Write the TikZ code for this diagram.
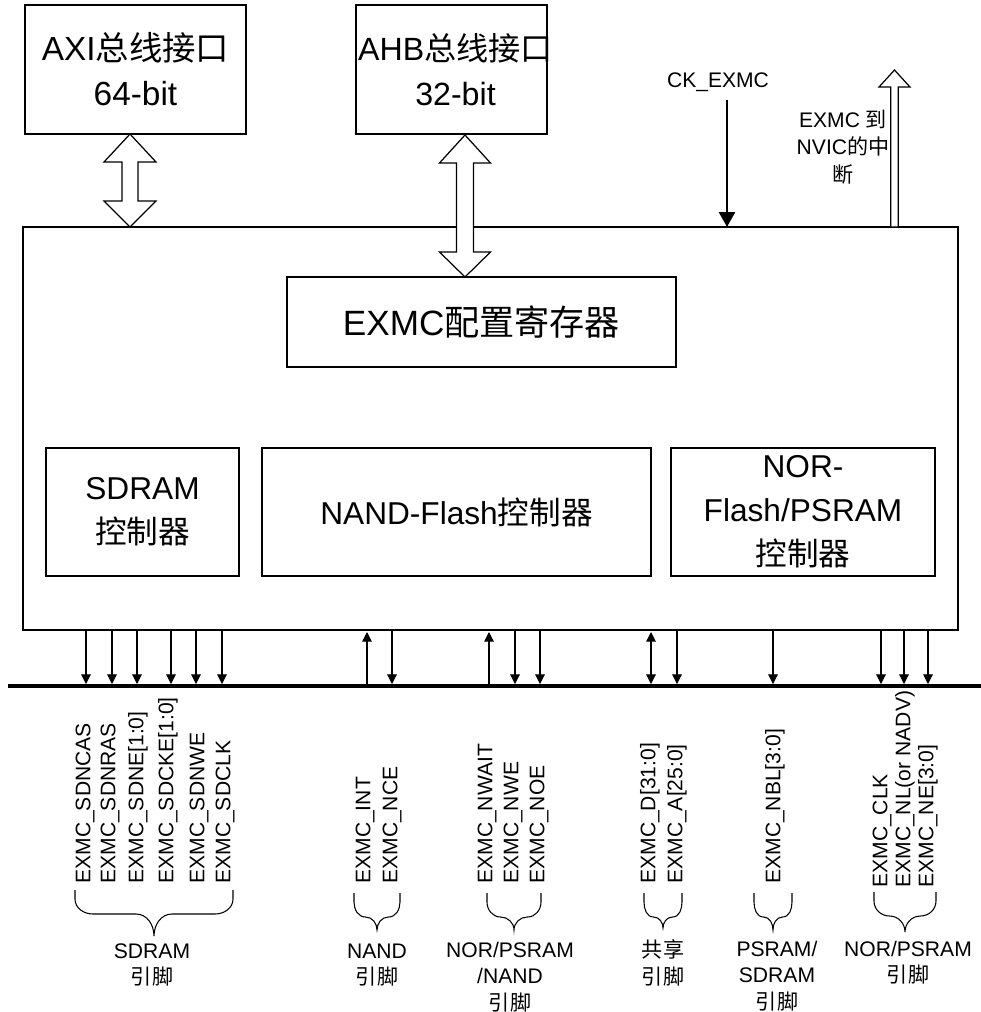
\documentclass[tikz,border=0pt]{standalone}
\usepackage{fontspec}
\setmainfont{Liberation Sans}
\newfontfamily\cjk{Noto Sans CJK SC}
\usetikzlibrary{arrows.meta,calc,fit}
\newcommand\zh[1]{{\cjk #1}}
\newcommand\pinbrace[4]{%
  \pgfmathsetmacro\bm{(#1+#2)/2}%
  \pgfmathsetmacro\br{min(18,(#2-#1)/4)}%
  \draw[bracestyle] (#1,#3) -- (#1,#3+9)
    to[out=-90,in=180] ({#1+\br},#3+24) -- ({\bm-\br},#3+24)
    to[out=0,in=90] (\bm,#3+#4)
    to[out=90,in=180] ({\bm+\br},#3+24) -- ({#2-\br},#3+24)
    to[out=0,in=-90] (#2,#3+9) -- (#2,#3);}
\begin{document}
\begin{tikzpicture}[x=0.02cm,y=-0.02cm,
  box/.style={draw,line width=0.75pt,inner sep=0},
  big/.style={font=\fontsize{18}{25}\selectfont,align=center,inner sep=0},
  small/.style={font=\fontsize{12}{15}\selectfont,align=center,inner sep=0},
  vlab/.style={font=\fontsize{12}{14}\selectfont,rotate=90,anchor=west,inner sep=0},
  sig/.style={line width=0.6pt,-{Triangle[width=5.5pt,length=5.5pt]}},
  sigup/.style={line width=0.6pt,{Triangle[width=5.5pt,length=5.5pt]}-},
  sigboth/.style={line width=0.6pt,{Triangle[width=5.5pt,length=5.5pt]}-{Triangle[width=5.5pt,length=5.5pt]}},
  hollow/.style={draw,fill=white,line width=0.7pt,line join=miter},
  bracestyle/.style={line width=0.6pt},
  ckarrow/.style={line width=1.7pt,-{Triangle[width=9pt,length=8.5pt]}}]
\useasboundingbox (0,0) rectangle (981,1012);
% boxes
\coordinate (a1) at (25,5); \coordinate (a2) at (246,134);
\node[box,fit=(a1)(a2)] (axi) {};
\node[big,font=\fontsize{19}{25.5}\selectfont] (axit) at (axi.center) {AXI\zh{总线接口}\\64-bit};
\coordinate (b1) at (356,5); \coordinate (b2) at (547,134);
\node[box,fit=(b1)(b2)] (ahb) {};
\node[big,font=\fontsize{18.3}{25.5}\selectfont] (ahbt) at ([xshift=0.08cm]ahb.center) {AHB\zh{总线接口}\\32-bit};
\coordinate (m1) at (23,227); \coordinate (m2) at (958,630);
\node[box,fit=(m1)(m2)] (main) {};
\coordinate (c1) at (287,277); \coordinate (c2) at (676,367);
\node[box,fit=(c1)(c2)] (cfg) {};
\node[big,font=\fontsize{20}{25}\selectfont] (cfgt) at (cfg.center) {EXMC\zh{配置寄存器}};
\coordinate (s1) at (46,448); \coordinate (s2) at (239,576);
\node[box,fit=(s1)(s2)] (sdc) {};
\node[big] (sdct) at (sdc.center) {SDRAM\\\zh{控制器}};
\coordinate (n1) at (262,448); \coordinate (n2) at (651,576);
\node[box,fit=(n1)(n2)] (nandc) {};
\node[big] (nandct) at (nandc.center) {NAND-Flash\zh{控制器}};
\coordinate (o1) at (671,448); \coordinate (o2) at (935,576);
\node[box,fit=(o1)(o2)] (norc) {};
\node[big] (norct) at (norc.center) {NOR-\\Flash/PSRAM\\\zh{控制器}};
% hollow double arrows
\path[hollow] (130,134) -- (156,162) -- (138,162) -- (138,201) -- (156,201) -- (130,227)
  -- (104,201) -- (122,201) -- (122,162) -- (104,162) -- cycle;
\path[hollow] (465,135) -- (490.5,163) -- (473.5,163) -- (473.5,252) -- (490.5,252) -- (465,277)
  -- (439.5,252) -- (456.5,252) -- (456.5,163) -- (439.5,163) -- cycle;
% interrupt arrow
\path[hollow] (894.5,70) -- (910,87) -- (898.3,87) -- (898.3,227) -- (890.7,227) -- (890.7,87) -- (879,87) -- cycle;
\node[small,font=\fontsize{12}{15.5}\selectfont] (irq) at (843,147) {EXMC \zh{到}\\NVIC\zh{的中}\\\zh{断}};
% clock
\node[small] (ck) at (718,82) {CK\_EXMC};
\coordinate (ckin) at (727,227);
\coordinate (ckstart) at (727,100);
\draw[ckarrow] (ckstart) -- (ckin);
% bus
\coordinate (busL) at (8,686); \coordinate (busR) at (981,686);
\foreach \x in {86,112,137,171,196,222,392,515,540,677,773,881,904,928}
  \draw[sig] (\x,630 |- main.south) -- (\x,684);
\foreach \x in {367,489}
  \draw[sigup] (\x,632) -- (\x,686);
\draw[sigboth] (651,632) -- (651,684);
\draw[line width=2.3pt] (busL) -- (busR);
% vertical labels
\node[vlab] (p1) at (85,884) {EXMC\_SDNCAS};
\node[vlab] (p2) at (110,884) {EXMC\_SDNRAS};
\node[vlab] (p3) at (138,884) {EXMC\_SDNE[1:0]};
\node[vlab] (p4) at (168,884) {EXMC\_SDCKE[1:0]};
\node[vlab] (p5) at (199,884) {EXMC\_SDNWE};
\node[vlab] (p6) at (225,884) {EXMC\_SDCLK};
\node[vlab] (p7) at (365,884) {EXMC\_INT};
\node[vlab] (p8) at (392,884) {EXMC\_NCE};
\node[vlab] (p9) at (487,884) {EXMC\_NWAIT};
\node[vlab] (p10) at (513,884) {EXMC\_NWE};
\node[vlab] (p11) at (539,884) {EXMC\_NOE};
\node[vlab] (p12) at (650,884) {EXMC\_D[31:0]};
\node[vlab] (p13) at (677,884) {EXMC\_A[25:0]};
\node[vlab] (p14) at (775,884) {EXMC\_NBL[3:0]};
\node[vlab] (p15) at (882,888) {EXMC\_CLK};
\node[vlab] (p16) at (905,888) {EXMC\_NL(or NADV)};
\node[vlab] (p17) at (928,888) {EXMC\_NE[3:0]};
% braces
\pinbrace{75}{233}{890}{46}
\pinbrace{354}{400}{893}{37}
\pinbrace{487}{541}{893}{37}
\pinbrace{644}{682}{893}{35}
\pinbrace{754}{792}{893}{37}
\pinbrace{874}{936}{892}{40}
% group labels
\node[small] (g1) at (152,965) {SDRAM\\\zh{引脚}};
\node[small] (g2) at (377,965) {NAND\\\zh{引脚}};
\node[small] (g3) at (510,977) {NOR/PSRAM\\/NAND\\\zh{引脚}};
\node[small] (g4) at (663,963) {\zh{共享}\\\zh{引脚}};
\node[small] (g5) at (777,976) {PSRAM/\\SDRAM\\\zh{引脚}};
\node[small] (g6) at (908,963) {NOR/PSRAM\\\zh{引脚}};
\end{tikzpicture}
\end{document}
